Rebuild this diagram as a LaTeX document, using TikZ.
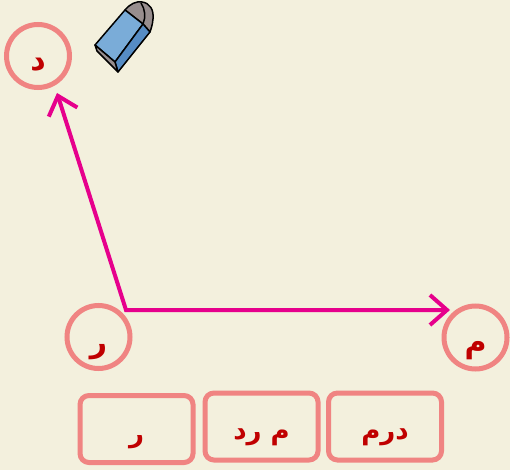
\documentclass[tikz,border=0pt]{standalone}
\usepackage{fontspec}
\usepackage{tkz-graph}
\usetikzlibrary{arrows.meta}
\TeXXeTstate=1
\newfontfamily\arabicfont[Script=Arabic]{DejaVu Sans}
\definecolor{paper}{RGB}{243,240,221}
\definecolor{rosa}{RGB}{240,132,130}
\definecolor{pinkline}{RGB}{230,0,140}
\definecolor{letter}{RGB}{192,0,0}
\definecolor{rubber}{RGB}{122,172,216}
\definecolor{rubberdark}{RGB}{86,140,196}
\definecolor{capgray}{RGB}{152,142,142}
\tikzset{
  letters/.style={font=\arabicfont\bfseries\fontsize{26}{30}\selectfont,text=letter},
  box/.style={letters,draw=rosa,line width=5pt,rounded corners=9pt,minimum width=113pt,minimum height=67pt,text height=28pt,text depth=2pt},
  vec/.style={draw=pinkline,line width=4pt,line join=miter,{Straight Barb[length=17pt,width=30pt]}-{Straight Barb[length=17pt,width=30pt]}},
  eraser/.style={draw=black,line width=1.5pt,line join=round}
}
\begin{document}
\begin{tikzpicture}[x=1pt,y=-1pt]
		\fill[paper] (0,0) rectangle (510,470);
		\GraphInit[vstyle=Normal]
		\tikzset{VertexStyle/.style={letters,font=\arabicfont\bfseries\fontsize{30}{34}\selectfont,shape=circle,draw=rosa,line width=5pt,fill=paper,minimum size=63pt,inner sep=0pt,text height=32pt,text depth=2pt}}
		\Vertex[x=38,y=56,L={\beginR د\endR}]{d}
		\Vertex[x=98.5,y=337,L={\beginR ر\endR}]{r}
		\Vertex[x=475.5,y=337.5,L={\beginR م\endR}]{m}
		
		\coordinate (o) at (126,310);
		\coordinate (dtip) at (57,93);
		\coordinate (mtip) at (450,310);
		\draw[vec] (dtip) -- (o) -- (mtip);
		
		\node[box] (b1) at (136.5,429) {\beginR ر\endR};
		\node[box] (b2) at (261.5,426.5) {\beginR م رد\endR};
		\node[box] (b3) at (385,426.5) {\beginR درم\endR};
		
		\filldraw[eraser,fill=capgray] (125,10) .. controls (130,4) and (136,1) .. (142,2) .. controls (150,3) and (154,10) .. (153,19) .. controls (152.5,25) and (151,29) .. (150,32) -- (143,24) -- cycle;
		\draw[eraser] (141,3) .. controls (145,9) and (146,17) .. (143,24);
		\filldraw[eraser,fill=rubber] (125,10) -- (143,24) -- (115,62) -- (95,45) -- cycle;
		\filldraw[eraser,fill=rubberdark] (143,24) -- (150,32) -- (118,72) -- (115,62) -- cycle;
		\filldraw[eraser,fill=capgray] (95,45) -- (115,62) -- (118,72) -- (97,51) -- cycle;
		\end{tikzpicture}
\end{document}
